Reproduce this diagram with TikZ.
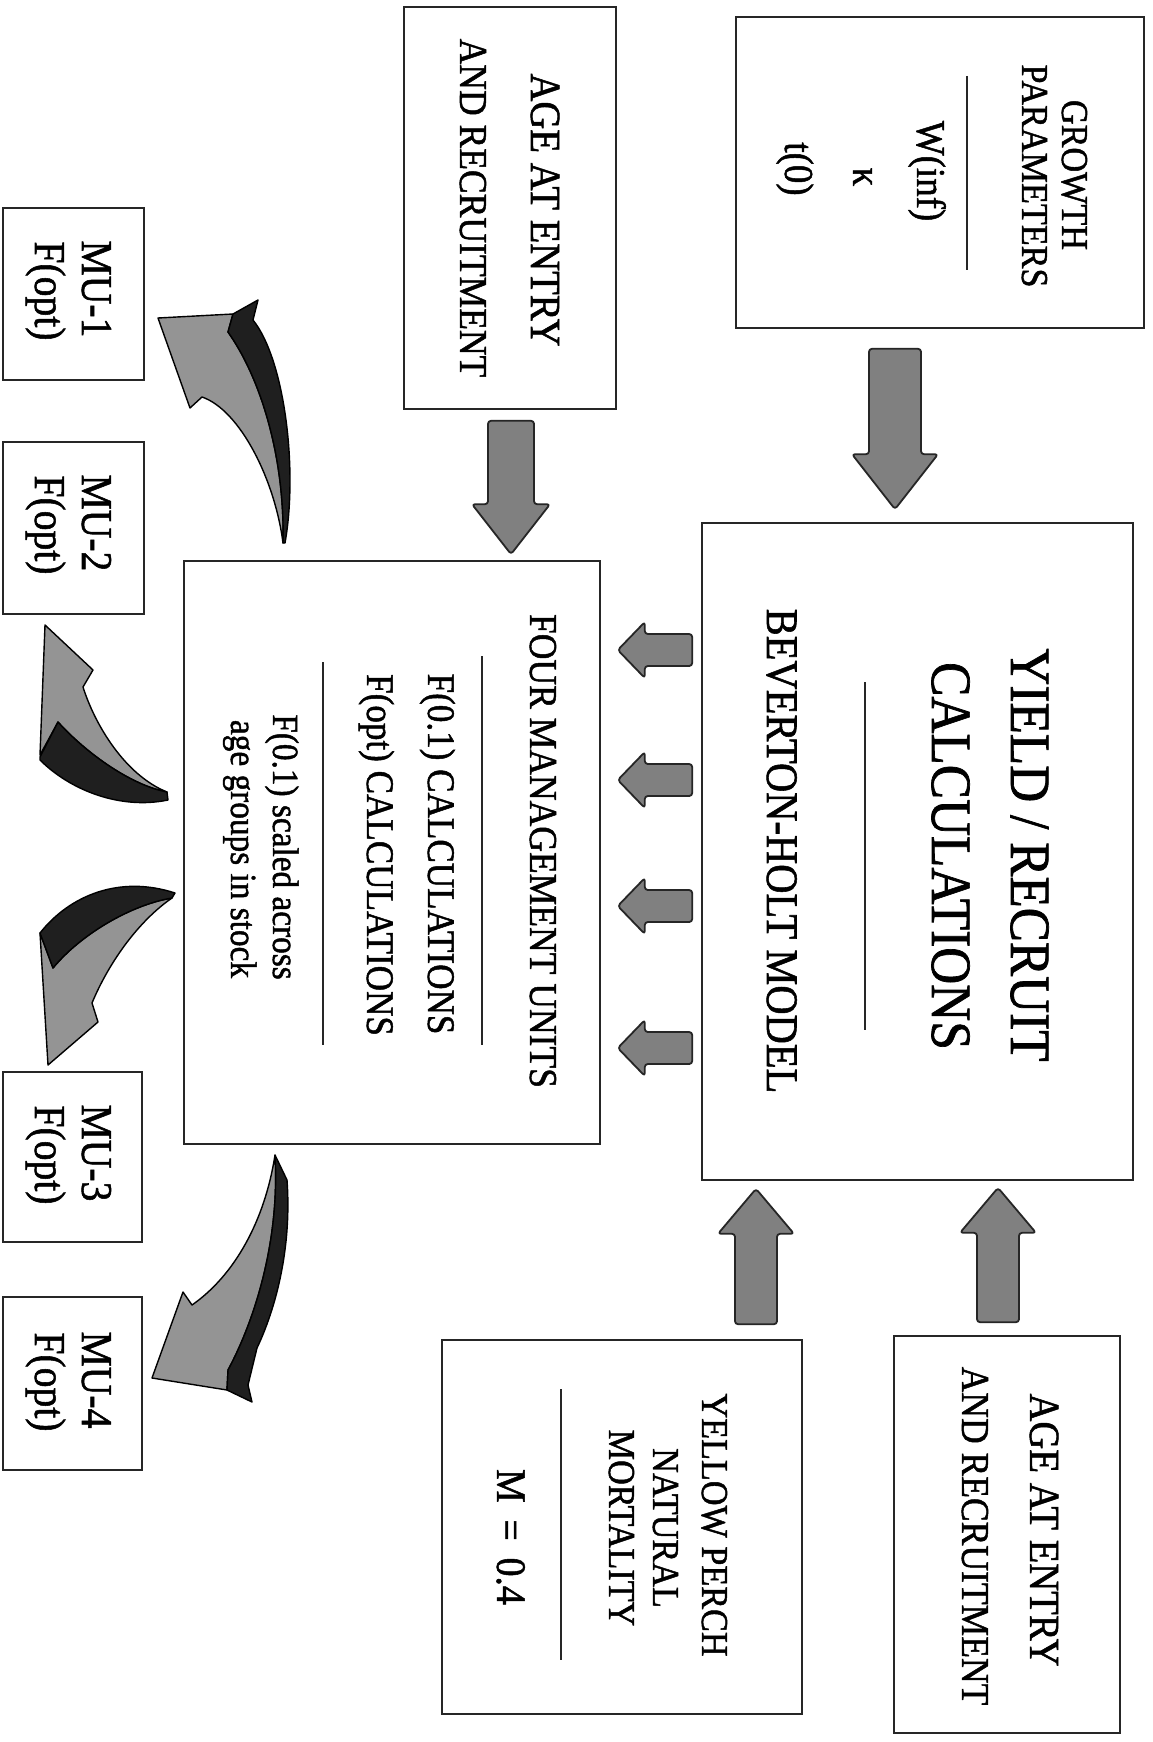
\documentclass[tikz,border=0pt]{standalone}
\usepackage{fontspec}
\setmainfont{Liberation Serif}[FakeStretch=0.9,FakeBold=1.2]
\usetikzlibrary{calc}
\newcommand\fsz[1]{\fontsize{#1pt}{#1pt}\selectfont}
% block arrow: #1 start, #2 end, #3 shaft half width, #4 head half width, #5 head length
\newcommand\fatarrow[5]{%
  \coordinate (fa-h) at ($(#2)!#5!(#1)$);
  \filldraw[blockarr] ($(#1)!#3!90:(#2)$) -- ($(fa-h)!#3!90:(#2)$) -- ($(fa-h)!#4!90:(#2)$) -- (#2)
    -- ($(fa-h)!#4!-90:(#2)$) -- ($(fa-h)!#3!-90:(#2)$) -- ($(#1)!#3!-90:(#2)$) -- cycle;
}
\begin{document}
\begin{tikzpicture}[x=1pt,y=-1pt,
  box/.style={draw=black!85, line width=1.6pt, inner sep=0pt},
  txt/.style={rotate=-90, anchor=base, inner sep=0pt},
  rulel/.style={draw=black!85, line width=1.8pt},
  blockarr/.style={fill=black!50, draw=black!85, line width=1.8pt, rounded corners=3pt, line join=round},
  cface/.style={fill=black!42, draw=black, line width=1.4pt, line join=round},
  cdark/.style={fill=black!88, draw=black, line width=1.4pt, line join=round},
]
\fill[white] (0,0) rectangle (1153,1742);
\useasboundingbox (0,0) rectangle (1153,1742);

% ---------- boxes ----------
\node[box, minimum width=408pt, minimum height=311pt] (growth) at (940,172.5) {};
\node[box, minimum width=212pt, minimum height=402pt] (agetop) at (510,208) {};
\node[box, minimum width=431pt, minimum height=657pt] (yield) at (917.5,851.5) {};
\node[box, minimum width=416pt, minimum height=583pt] (four) at (392,852.5) {};
\node[box, minimum width=141pt, minimum height=172pt] (mu1) at (73.5,294) {};
\node[box, minimum width=141pt, minimum height=172pt] (mu2) at (73.5,528) {};
\node[box, minimum width=139pt, minimum height=170pt] (mu3) at (72.5,1157) {};
\node[box, minimum width=139pt, minimum height=173pt] (mu4) at (72.5,1383.5) {};
\node[box, minimum width=360pt, minimum height=374pt] (perch) at (622,1527) {};
\node[box, minimum width=226pt, minimum height=397pt] (agebot) at (1007,1534.5) {};

% ---------- texts ----------
\node[txt, font=\fsz{38}] (gt1) at (1062,175) {GROWTH};
\node[txt, font=\fsz{38}] (gt2) at (1022,176) {PARAMETERS};
\draw[rulel] (967,76) -- (967,270);
\node[txt, font=\fsz{41}] (gt3) at (917,171) {W(inf)};
\node[txt, font=\fsz{41}] (gt4) at (853,177) {κ};
\node[txt, font=\fsz{41}] (gt5) at (785,169) {t(0)};

\node[txt, font=\fsz{43}] (at1) at (531,210) {AGE AT ENTRY};
\node[txt, font=\fsz{39.5}] (at2) at (460,208) {AND RECRUITMENT};

\node[txt, font=\fsz{57}] (yt1) at (1011,855) {YIELD / RECRUIT};
\node[txt, font=\fsz{57}] (yt2) at (932,856) {CALCULATIONS};
\draw[rulel] (865,682) -- (865,1030);
\node[txt, font=\fsz{45}] (yt3) at (767,851) {BEVERTON-HOLT MODEL};

\node[txt, font=\fsz{39.5}] (ft1) at (530,851) {FOUR MANAGEMENT UNITS};
\draw[rulel] (482,656) -- (482,1045);
\node[txt, font=\fsz{39}] (ft2) at (428,854) {F(0.1) CALCULATIONS};
\node[txt, font=\fsz{39}] (ft3) at (367,855) {F(opt) CALCULATIONS};
\draw[rulel] (323,662) -- (323,1045);
\node[txt, font=\fsz{37}] (ft4) at (273,847) {F(0.1) scaled across};
\node[txt, font=\fsz{37}] (ft5) at (231,849) {age groups in stock};

\node[txt, font=\fsz{44}] (m1a) at (82,289) {MU-1};
\node[txt, font=\fsz{44}] (m1b) at (35,291) {F(opt)};
\node[txt, font=\fsz{44}] (m2a) at (82,523) {MU-2};
\node[txt, font=\fsz{44}] (m2b) at (35,525) {F(opt)};
\node[txt, font=\fsz{44}] (m3a) at (82,1153) {MU-3};
\node[txt, font=\fsz{44}] (m3b) at (35,1155) {F(opt)};
\node[txt, font=\fsz{44}] (m4a) at (82,1380) {MU-4};
\node[txt, font=\fsz{44}] (m4b) at (35,1382) {F(opt)};

\node[txt, font=\fsz{38}] (pt1) at (702,1525) {YELLOW PERCH};
\node[txt, font=\fsz{38}] (pt2) at (653,1528) {NATURAL};
\node[txt, font=\fsz{38}] (pt3) at (609,1528) {MORTALITY};
\draw[rulel] (561,1389) -- (561,1660);
\node[txt, font=\fsz{42}] (pt4) at (497,1537) {M\hspace{0.4em}=\hspace{0.4em}0.4};

\node[txt, font=\fsz{43}] (bt1) at (1030,1530) {AGE AT ENTRY};
\node[txt, font=\fsz{39.5}] (bt2) at (962,1536) {AND RECRUITMENT};

% ---------- block arrows ----------
\coordinate (g1) at ($(growth.south)+(-45,20)$);
\coordinate (g2) at ($(yield.north)+(-22.5,-13)$);
\fatarrow{g1}{g2}{26pt}{43pt}{55pt}

\coordinate (a1) at ($(agetop.south)+(1,11)$);
\coordinate (a2) at ($(four.north)+(119,-6)$);
\fatarrow{a1}{a2}{23pt}{39pt}{50pt}

\coordinate (h1s) at ($(yield.west)+(-9,-201.5)$);
\coordinate (h1e) at ($(four.east)+(17,-202.5)$);
\coordinate (h2s) at ($(yield.west)+(-9,-71.5)$);
\coordinate (h2e) at ($(four.east)+(17,-72.5)$);
\coordinate (h3s) at ($(yield.west)+(-9,54.5)$);
\coordinate (h3e) at ($(four.east)+(17,53.5)$);
\coordinate (h4s) at ($(yield.west)+(-9,196.5)$);
\coordinate (h4e) at ($(four.east)+(17,195.5)$);
\fatarrow{h1s}{h1e}{16pt}{28pt}{27pt}
\fatarrow{h2s}{h2e}{16pt}{28pt}{27pt}
\fatarrow{h3s}{h3e}{16pt}{28pt}{27pt}
\fatarrow{h4s}{h4e}{16pt}{28pt}{27pt}

\coordinate (p1) at ($(perch.north)+(134,-15)$);
\coordinate (p2) at ($(yield.south)+(-161.5,8)$);
\fatarrow{p1}{p2}{21pt}{38pt}{45pt}

\coordinate (b1) at ($(agebot.north)+(-9,-13)$);
\coordinate (b2) at ($(yield.south)+(80.5,7)$);
\fatarrow{b1}{b2}{21pt}{38pt}{45pt}

% ---------- curved ribbon arrows ----------
% to MU-1
\filldraw[cface] (158,318) -- (233,314) -- (228,332) .. controls (262,380) and (285,460) .. (283,543)
  .. controls (275,480) and (240,410) .. (202,397) -- (190,408) -- cycle;
\filldraw[cdark] (233,314) -- (258,300) -- (253,320) .. controls (285,360) and (298,470) .. (285,543)
  -- (283,543) .. controls (285,460) and (262,380) .. (228,332) -- cycle;
% to MU-2
\filldraw[cface] (45,625) -- (93,670) -- (83,687) .. controls (95,725) and (125,775) .. (167,792)
  .. controls (130,785) and (85,752) .. (58,722) -- (40,755) -- cycle;
\filldraw[cdark] (40,757) -- (58,722) .. controls (85,752) and (130,785) .. (167,792)
  -- (168,800) .. controls (120,810) and (70,790) .. (40,760) -- cycle;
% to MU-3
\filldraw[cface] (48,1065) -- (98,1022) -- (92,1003) .. controls (110,960) and (140,920) .. (172,898)
  .. controls (130,905) and (80,935) .. (53,968) -- (40,933) -- cycle;
\filldraw[cdark] (40,933) .. controls (70,895) and (120,875) .. (175,893) -- (172,898)
  .. controls (130,905) and (80,935) .. (53,968) -- cycle;
% to MU-4
\filldraw[cface] (275,1155) .. controls (265,1220) and (235,1275) .. (192,1305) -- (183,1292)
  -- (152,1378) -- (227,1390) -- (228,1370) .. controls (255,1320) and (280,1240) .. (275,1155) -- cycle;
\filldraw[cdark] (275,1155) -- (287,1180) .. controls (292,1250) and (275,1310) .. (257,1348)
  -- (248,1385) -- (252,1402) -- (227,1390) -- (228,1370) .. controls (255,1320) and (280,1240) .. (275,1155) -- cycle;
\end{tikzpicture}
\end{document}
